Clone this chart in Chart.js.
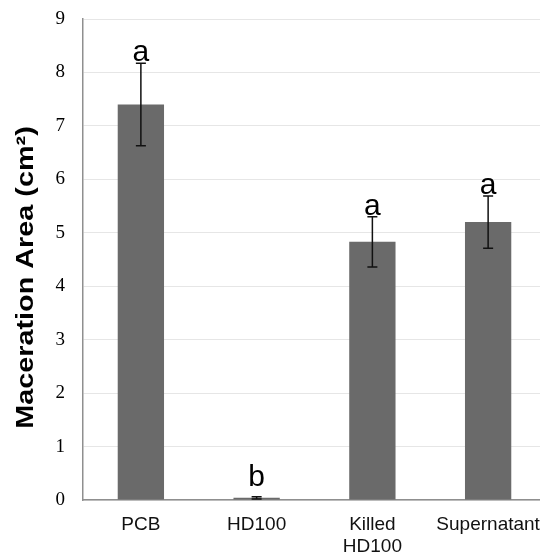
<!DOCTYPE html>
<html>
<head>
<meta charset="utf-8">
<script src="https://cdn.jsdelivr.net/npm/chart.js@4/dist/chart.umd.min.js"></script>
<style>
  html, body { margin: 0; padding: 0; background: #fff; overflow: hidden; }
  canvas { display: block; }
</style>
</head>
<body>
<canvas id="chart" width="548" height="555"></canvas>
<script>
// data
const categories = ['PCB', 'HD100', ['Killed', 'HD100'], 'Supernatant'];
const means = [7.40, 0.04, 4.83, 5.20];
const errors = [0.77, 0.02, 0.47, 0.49];
const letters = ['a', 'b', 'a', 'a'];
const yTicks = [0, 1, 2, 3, 4, 5, 6, 7, 8, 9];
const yTitle = 'Maceration Area (cm²)';

// error bars + significance letters
const errorBarPlugin = {
  id: 'errorBars',
  afterDatasetsDraw(chart) {
    const { ctx, scales: { x, y } } = chart;
    const base = y.getPixelForValue(0);
    ctx.save();
    ctx.strokeStyle = '#111';
    ctx.lineWidth = 1.5;
    means.forEach((m, i) => {
      const cx = x.getPixelForValue(i);
      const top = y.getPixelForValue(m + errors[i]);
      const bot = y.getPixelForValue(m - errors[i]);
      ctx.beginPath();
      ctx.moveTo(cx, top); ctx.lineTo(cx, bot);
      ctx.moveTo(cx - 5, top); ctx.lineTo(cx + 5, top);
      ctx.moveTo(cx - 5, bot); ctx.lineTo(cx + 5, bot);
      ctx.stroke();

      ctx.fillStyle = '#000';
      ctx.font = '30px "Liberation Sans", Arial, sans-serif';
      ctx.textAlign = 'center';
      ctx.textBaseline = 'alphabetic';
      const ly = Math.min(top - 2, base - 14);
      ctx.fillText(letters[i], cx, ly);
    });
    ctx.restore();
  }
};

// y title drawn by hand, the original is a bit stretched
const yTitlePlugin = {
  id: 'yTitle',
  afterDraw(chart) {
    const { ctx, chartArea } = chart;
    ctx.save();
    ctx.translate(26, (chartArea.top + chartArea.bottom) / 2 + 18);
    ctx.rotate(-Math.PI / 2);
    ctx.scale(1.2, 1);
    ctx.font = 'bold 24px "Liberation Sans", Arial, sans-serif';
    ctx.fillStyle = '#000';
    ctx.textAlign = 'center';
    ctx.textBaseline = 'middle';
    ctx.fillText(yTitle, 0, 0);
    ctx.restore();
  }
};

new Chart(document.getElementById('chart'), {
  type: 'bar',
  data: {
    labels: categories,
    datasets: [{
      data: means,
      backgroundColor: '#6a6a6a',
      borderWidth: 0,
      barPercentage: 0.4,
      categoryPercentage: 1.0
    }]
  },
  options: {
    responsive: false,
    animation: false,
    layout: { padding: { top: 19, right: 2, left: 6, bottom: 0 } },
    plugins: {
      legend: { display: false },
      tooltip: { enabled: false }
    },
    scales: {
      x: {
        grid: { display: false, drawTicks: false },
        border: { color: '#8f8f8f', width: 1.5 },
        ticks: {
          color: '#111',
          padding: 14,
          maxRotation: 0,
          autoSkip: false,
          font: { family: '"Liberation Sans", Arial, sans-serif', size: 19, lineHeight: 1.15 }
        },
        afterFit(scale) {
          scale.height = 55;
          scale.paddingLeft = 0;
          scale.paddingRight = 0;
        }
      },
      y: {
        min: 0,
        max: 9,
        afterBuildTicks(scale) { scale.ticks = yTicks.map(v => ({ value: v })); },
        grid: { color: '#e6e6e6', lineWidth: 1, drawTicks: false },
        border: { color: '#8f8f8f', width: 1.5 },
        ticks: {
          color: '#000',
          padding: 18,
          font: { family: '"Liberation Serif", "Times New Roman", serif', size: 19 }
        },
        afterFit(scale) {
          scale.width = 77;
          scale.paddingTop = 0;
          scale.paddingBottom = 0;
        }
      }
    }
  },
  plugins: [errorBarPlugin, yTitlePlugin]
});
</script>
</body>
</html>
